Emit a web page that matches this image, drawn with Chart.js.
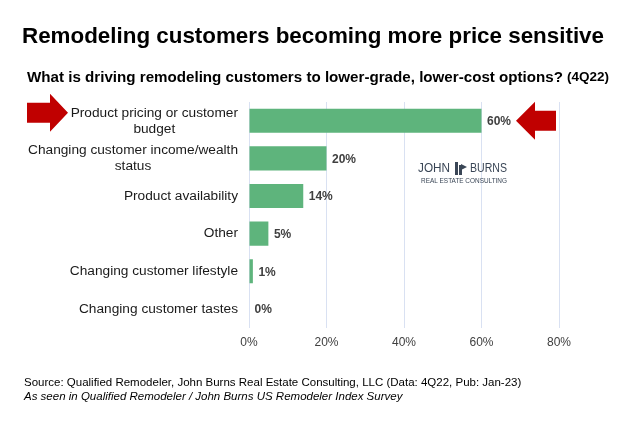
<!DOCTYPE html>
<html><head><meta charset="utf-8">
<script src="https://cdn.jsdelivr.net/npm/chart.js@4/dist/chart.umd.min.js"></script>
<style>html,body{margin:0;padding:0;background:#fff}#wrap{width:640px;height:423px;position:relative}</style>
</head><body><div id="wrap"><canvas id="c" width="640" height="423"></canvas></div>
<script>
const categories = [
  ["Product pricing or customer", "budget"],
  ["Changing customer income/wealth", "status"],
  ["Product availability"],
  ["Other"],
  ["Changing customer lifestyle"],
  ["Changing customer tastes"]
];
const values = [60, 20, 14, 5, 1, 0];
const xTicks = [0, 20, 40, 60, 80];
const titleText = "Remodeling customers becoming more price sensitive";
const subtitleText = "What is driving remodeling customers to lower-grade, lower-cost options?";
const subtitleTag = "(4Q22)";
const sourceText = "Source: Qualified Remodeler, John Burns Real Estate Consulting, LLC (Data: 4Q22, Pub: Jan-23)";
const noteText = "As seen in Qualified Remodeler / John Burns US Remodeler Index Survey";

const FONT = "'Liberation Sans', Arial, sans-serif";

function fitText(ctx, text, x, y, width) {
  const w = ctx.measureText(text).width;
  ctx.save();
  ctx.translate(x, y);
  ctx.scale(width / w, 1);
  ctx.textAlign = "left";
  ctx.fillText(text, 0, 0);
  ctx.restore();
}

function arrow(ctx, tipX, cy, dir, len, halfH, shaftHalf, headLen) {
  const baseX = tipX - dir * len;
  const neckX = tipX - dir * headLen;
  ctx.beginPath();
  ctx.moveTo(baseX, cy - shaftHalf);
  ctx.lineTo(neckX, cy - shaftHalf);
  ctx.lineTo(neckX, cy - halfH);
  ctx.lineTo(tipX, cy);
  ctx.lineTo(neckX, cy + halfH);
  ctx.lineTo(neckX, cy + shaftHalf);
  ctx.lineTo(baseX, cy + shaftHalf);
  ctx.closePath();
  ctx.fillStyle = "#c00000";
  ctx.fill();
}

const decor = {
  id: "decor",
  afterDraw(chart) {
    const ctx = chart.ctx;
    const x = chart.scales.x, y = chart.scales.y;
    ctx.save();
    ctx.fillStyle = "#000";
    ctx.textBaseline = "middle";
    // titles
    ctx.font = "bold 22px " + FONT;
    fitText(ctx, titleText, 22, 37, 582);
    ctx.font = "bold 15px " + FONT;
    fitText(ctx, subtitleText, 27, 78, 536);
    ctx.font = "bold 12.5px " + FONT;
    fitText(ctx, subtitleTag, 567, 78, 42);

    // category labels
    ctx.font = "13.7px " + FONT;
    ctx.fillStyle = "#1a1a1a";
    const rightEdge = x.left - 11;
    categories.forEach((lines, i) => {
      const cy = y.getPixelForValue(i);
      let mw = 0;
      lines.forEach(l => { mw = Math.max(mw, ctx.measureText(l).width); });
      const cx = rightEdge - mw / 2;
      const lh = 16;
      const y0 = cy - (lines.length - 1) * lh / 2;
      ctx.textAlign = "center";
      lines.forEach((l, k) => ctx.fillText(l, cx, y0 + k * lh));
    });

    // data labels
    const meta = chart.getDatasetMeta(0);
    ctx.font = "bold 12px " + FONT;
    ctx.fillStyle = "#404040";
    ctx.textAlign = "left";
    meta.data.forEach((bar, i) => {
      ctx.fillText(values[i] + "%", bar.x + 5.5, bar.y + 1);
    });

    // arrows
    const y0 = y.getPixelForValue(0);
    arrow(ctx, 68, y0 - 8, 1, 41, 19, 10, 18);
    arrow(ctx, 516, y0, -1, 40, 19, 10, 19);

    // logo
    ctx.fillStyle = "#3a4656";
    ctx.font = "12px " + FONT;
    fitText(ctx, "JOHN", 418, 169, 32);
    fitText(ctx, "BURNS", 470, 169, 37);
    ctx.fillRect(455, 162, 3, 13);
    ctx.fillRect(459, 165, 3, 10);
    ctx.beginPath();
    ctx.moveTo(461, 164); ctx.lineTo(467, 167); ctx.lineTo(461, 170); ctx.closePath(); ctx.fill();
    ctx.font = "7px " + FONT;
    fitText(ctx, "REAL ESTATE CONSULTING", 421, 181, 86);

    // footer
    ctx.fillStyle = "#000";
    ctx.textAlign = "left";
    ctx.font = "11.5px " + FONT;
    ctx.fillText(sourceText, 24, 383);
    ctx.font = "italic 11.5px " + FONT;
    ctx.fillText(noteText, 24, 397);
    ctx.restore();
  }
};

new Chart(document.getElementById("c"), {
  type: "bar",
  data: {
    labels: categories.map(c => c.join(" ")),
    datasets: [{
      data: values,
      backgroundColor: "#5eb47c",
      borderWidth: 0,
      categoryPercentage: 1,
      barPercentage: 0.64
    }]
  },
  options: {
    indexAxis: "y",
    responsive: false,
    animation: false,
    devicePixelRatio: 1,
    layout: { padding: { left: 249, right: 81, top: 102, bottom: 65 } },
    plugins: { legend: { display: false }, tooltip: { enabled: false } },
    scales: {
      y: { display: false },
      x: {
        min: 0, max: 80,
        afterBuildTicks(s) { s.ticks = xTicks.map(v => ({ value: v })); },
        ticks: {
          callback: v => v + "%",
          font: { size: 12, family: FONT },
          color: "#404040",
          padding: 8,
          maxRotation: 0
        },
        grid: { color: "#d9e1f2", drawTicks: false, lineWidth: 1 },
        border: { display: false }
      }
    }
  },
  plugins: [decor]
});
</script>
</body></html>
